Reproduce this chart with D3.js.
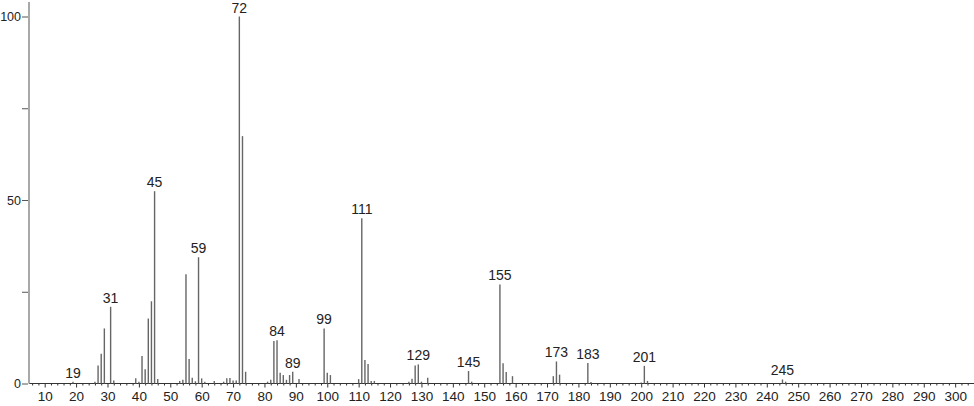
<!DOCTYPE html>
<html lang="en">
<head>
<meta charset="UTF-8">
<title>Mass spectrum</title>
<script src="https://d3js.org/d3.v7.min.js"></script>
<style>
    body { margin: 0; background: #fff; }
    svg { display: block; font-family: "Liberation Sans", Arial, sans-serif; }
    .axis text { font-family: "Liberation Sans Narrow", "Liberation Sans", sans-serif; font-size: 13.5px; fill: #222; }
    .y-axis text { font-size: 12.5px; }
    .peak-label { font-size: 14px; fill: #222; text-anchor: middle; }
</style>
</head>
<body>
<script>
    // m/z values and relative intensities
    const mz = [19, 26, 27, 28, 29, 31, 32, 39, 40, 41, 42, 43, 44, 45, 46,
        53, 54, 55, 56, 57, 58, 59, 60, 61, 64, 67, 68, 69, 70, 71, 72, 73, 74,
        81, 82, 83, 84, 85, 86, 87, 88, 89, 91, 99, 100, 101,
        110, 111, 112, 113, 114, 115, 126, 127, 128, 129, 130, 132, 145, 146,
        155, 156, 157, 159, 172, 173, 174, 183, 184, 200, 201, 202, 245, 246];
    const intensity = [0.5, 0.5, 4.9, 8.1, 15.0, 20.9, 0.8, 1.4, 0.5, 7.5, 3.9, 17.7, 22.4, 52.4, 1.2,
        0.7, 1.0, 29.8, 6.7, 1.6, 0.6, 34.4, 1.4, 0.5, 0.7, 0.5, 1.4, 1.5, 0.8, 0.8, 100, 67.4, 3.2,
        0.5, 1.0, 11.6, 11.8, 2.9, 2.3, 1.0, 2.3, 3.2, 1.2, 15.0, 2.9, 2.3,
        1.2, 45.0, 6.4, 5.3, 0.7, 0.7, 0.5, 1.3, 4.9, 5.2, 0.5, 1.6, 3.4, 0.5,
        27.0, 5.5, 3.1, 2.0, 2.0, 6.0, 2.4, 5.6, 0.4, 0.3, 4.8, 0.7, 1.1, 0.5];
    const labelled = [19, 31, 45, 59, 72, 84, 89, 99, 111, 129, 145, 155, 173, 183, 201, 245];

    const xMajor = d3.range(10, 301, 10);
    const xMinor = d3.range(6, 306, 2).filter(v => v % 10 !== 0);
    const yTicks = [0, 25, 50, 75, 100];
    const yLabelled = [0, 50, 100];

    const width = 974, height = 406;

    const svg = d3.select("body").append("svg")
        .attr("width", width)
        .attr("height", height);

    const x = d3.scaleLinear().domain([5, 306]).range([29, 974]);
    const y = d3.scaleLinear().domain([0, 100]).range([383.5, 16.5]);

    // minor ticks on x
    svg.append("g")
        .attr("class", "axis")
        .attr("transform", `translate(0,${y(0)})`)
        .call(d3.axisBottom(x).tickValues(xMinor).tickSize(2).tickFormat(""))
        .call(g => g.select(".domain").remove())
        .call(g => g.selectAll("line").attr("stroke", "#333"));

    // major ticks on x
    svg.append("g")
        .attr("class", "axis")
        .attr("transform", `translate(0,${y(0)})`)
        .call(d3.axisBottom(x).tickValues(xMajor).tickSize(4).tickPadding(4))
        .call(g => g.select(".domain").remove())
        .call(g => g.selectAll("line").attr("stroke", "#333"));

    // x baseline
    svg.append("line")
        .attr("x1", x(5)).attr("x2", width)
        .attr("y1", y(0)).attr("y2", y(0))
        .attr("stroke", "#333")
        .attr("stroke-width", 1);

    // y axis
    svg.append("g")
        .attr("class", "axis y-axis")
        .attr("transform", `translate(${x(5) - 1},0)`)
        .call(d3.axisLeft(y).tickValues(yTicks).tickSize(6).tickPadding(1)
            .tickFormat(d => yLabelled.includes(d) ? d : ""))
        .call(g => g.select(".domain").remove())
        .call(g => g.selectAll("line").attr("stroke", "#555"));

    svg.append("line")
        .attr("x1", x(5)).attr("x2", x(5))
        .attr("y1", 2).attr("y2", y(0))
        .attr("stroke", "#a8a8a8")
        .attr("stroke-width", 2);

    // peaks
    const peaks = mz.map((m, i) => ({ m: m, v: intensity[i] }));

    svg.append("g").selectAll("line")
        .data(peaks)
        .join("line")
        .attr("x1", d => x(d.m)).attr("x2", d => x(d.m))
        .attr("y1", y(0)).attr("y2", d => y(d.v))
        .attr("stroke", "#666")
        .attr("stroke-width", 1.4);

    svg.append("g").selectAll("text")
        .data(peaks.filter(d => labelled.includes(d.m)))
        .join("text")
        .attr("class", "peak-label")
        .attr("x", d => x(d.m))
        .attr("y", d => y(d.v) - 4)
        .text(d => d.m);
</script>
</body>
</html>
